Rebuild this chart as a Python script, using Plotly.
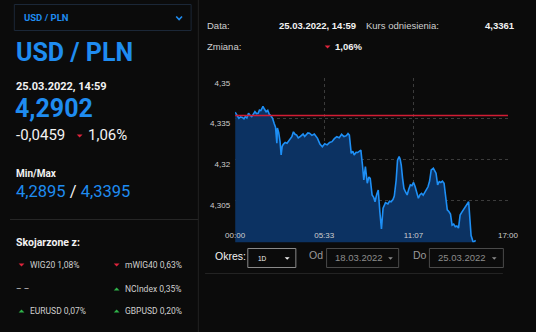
import pandas as pd
import plotly.graph_objects as go

W, H = 536, 332

# Intraday USD/PLN quotes, 25.03.2022
quote_date = "2022-03-25"
times = [
    "00:00", "00:07", "00:14", "00:20", "00:27", "00:33", "00:38", "00:44", "00:50", "00:56",
    "01:02", "01:08", "01:14", "01:20", "01:26", "01:31", "01:36", "01:40", "01:44", "01:50",
    "01:56", "02:02", "02:08", "02:14", "02:20", "02:26", "02:31", "02:36", "02:38", "02:43",
    "02:48", "02:52", "02:56", "03:00", "03:07", "03:14", "03:22", "03:32", "03:38", "03:44",
    "03:50", "03:56", "04:02", "04:08", "04:14", "04:20", "04:26", "04:32", "04:38", "04:47",
    "04:56", "05:02", "05:08", "05:17", "05:26", "05:35", "05:44", "05:53", "06:02", "06:11",
    "06:20", "06:29", "06:38", "06:47", "06:56", "07:02", "07:07", "07:14", "07:20", "07:25",
    "07:32", "07:38", "07:44", "07:50", "07:56", "08:01", "08:04", "08:07", "08:14", "08:20",
    "08:25", "08:32", "08:38", "08:43", "08:49", "08:55", "09:01", "09:07", "09:13", "09:22",
    "09:31", "09:37", "09:43", "09:50", "09:55", "10:02", "10:07", "10:13", "10:17", "10:21",
    "10:26", "10:31", "10:37", "10:43", "10:49", "10:55", "11:01", "11:07", "11:13", "11:19",
    "11:25", "11:31", "11:37", "11:43", "11:49", "11:55", "12:01", "12:07", "12:13", "12:21",
    "12:26", "12:31", "12:37", "12:43", "12:49", "12:55", "13:01", "13:07", "13:13", "13:19",
    "13:25", "13:31", "13:37", "13:43", "13:49", "13:55", "14:01", "14:07", "14:13", "14:19",
    "14:25", "14:33", "14:42", "14:50", "14:59",
]
rates = [
    4.3373, 4.3362, 4.3351, 4.3356, 4.3354, 4.3349, 4.3357, 4.3352, 4.3369, 4.3362,
    4.3357, 4.3366, 4.3375, 4.3368, 4.3369, 4.3381, 4.3379, 4.3386, 4.3395, 4.3384,
    4.3375, 4.3380, 4.3365, 4.3360, 4.3351, 4.3332, 4.3318, 4.3259, 4.3315, 4.3298,
    4.3265, 4.3216, 4.3248, 4.3255, 4.3262, 4.3259, 4.3270, 4.3283, 4.3301, 4.3292,
    4.3289, 4.3279, 4.3283, 4.3290, 4.3293, 4.3284, 4.3289, 4.3297, 4.3296, 4.3288,
    4.3293, 4.3286, 4.3277, 4.3256, 4.3246, 4.3257, 4.3253, 4.3262, 4.3265, 4.3276,
    4.3283, 4.3279, 4.3292, 4.3284, 4.3287, 4.3295, 4.3289, 4.3222, 4.3230, 4.3216,
    4.3226, 4.3225, 4.3231, 4.3234, 4.3179, 4.3124, 4.3150, 4.3173, 4.3112, 4.3135,
    4.3130, 4.3069, 4.3060, 4.3044, 4.3070, 4.3087, 4.3007, 4.2944, 4.3020, 4.3041,
    4.3036, 4.3046, 4.3044, 4.3052, 4.3065, 4.3124, 4.3197, 4.3210, 4.3200, 4.3179,
    4.3130, 4.3093, 4.3080, 4.3069, 4.3090, 4.3106, 4.3103, 4.3115, 4.3099, 4.3080,
    4.3057, 4.3070, 4.3075, 4.3068, 4.3078, 4.3085, 4.3099, 4.3120, 4.3161, 4.3167,
    4.3158, 4.3149, 4.3106, 4.3118, 4.3115, 4.3120, 4.3112, 4.3060, 4.3014, 4.3008,
    4.2999, 4.2958, 4.2962, 4.2952, 4.2955, 4.2947, 4.2995, 4.3005, 4.3014, 4.3020,
    4.3032, 4.3044, 4.2920, 4.2895, 4.2902,
]
ref_rate = 4.3361
y_ticks = [4.305, 4.32, 4.335, 4.35]
x_ticks = ["00:00", "05:33", "11:07", "17:00"]
session = ["00:00", "17:00"]

# Related instruments: (name, change, direction)
related_names = ["WIG20", "mWIG40", "NCIndex", "EURUSD", "GBPUSD"]
related_changes = ["1,08%", "0,63%", "0,35%", "0,07%", "0,20%"]
related_dirs = ["down", "down", "up", "up", "up"]

period_label = "1D"
date_from = "18.03.2022"
date_to = "25.03.2022"

BG = "#0b0b0b"
BLUE = "#1f8cf0"
WHITE = "#f2f2f2"
GREY = "#cfcfcf"
RED = "#e0243c"
GREEN = "#2fb34a"
LEFT_FONT = "Roboto"
RIGHT_FONT = "Liberation Sans"


def fmt(v, d=4):
    return f"{v:.{d}f}".replace(".", ",")


def ts(t):
    return pd.Timestamp(f"{quote_date} {t}")


x = [ts(t) for t in times]
last = rates[-1]
change = last - ref_rate
change_pct = abs(change) / ref_rate * 100
label_time = f"{pd.Timestamp(quote_date):%d.%m.%Y}, {times[-1]}"

fig = go.Figure()
fig.add_trace(go.Scatter(
    x=x, y=rates, mode="lines",
    line=dict(color="#1e8ff5", width=1.6),
    fill="tozeroy", fillcolor="#0c3262",
    hoverinfo="skip", showlegend=False,
))
fig.add_trace(go.Scatter(
    x=[ts(t) for t in session], y=[ref_rate, ref_rate], mode="lines",
    line=dict(color="#d21c34", width=1.4),
    hoverinfo="skip", showlegend=False,
))


def px(v):
    return v / W


def py(v):
    return 1 - v / H


annotations = []
shapes = []


def text(xp, yp, s, size, color=WHITE, bold=False, anchor="left", family=LEFT_FONT):
    if bold:
        s = f"<b>{s}</b>"
    annotations.append(dict(
        x=px(xp), y=py(yp), xref="paper", yref="paper", text=s, showarrow=False,
        xanchor=anchor, yanchor="middle",
        font=dict(size=size, color=color, family=family),
    ))


def line(x0, y0, x1, y1, color, width=1):
    shapes.append(dict(type="line", xref="paper", yref="paper",
                       x0=px(x0), y0=py(y0), x1=px(x1), y1=py(y1),
                       line=dict(color=color, width=width)))


def box(x0, y0, x1, y1, color, width=1):
    shapes.append(dict(type="rect", xref="paper", yref="paper",
                       x0=px(x0), y0=py(y0), x1=px(x1), y1=py(y1),
                       line=dict(color=color, width=width)))


def caret(xc, yc, color, filled=True, w=3.0, h=3.0):
    path = (f"M {px(xc - w)} {py(yc - h / 2)} L {px(xc)} {py(yc + h / 2)} "
            f"L {px(xc + w)} {py(yc - h / 2)}")
    if filled:
        path += " Z"
    shapes.append(dict(type="path", xref="paper", yref="paper", path=path,
                       fillcolor=color if filled else "rgba(0,0,0,0)",
                       line=dict(color=color, width=0 if filled else 1.6)))


def tri(xc, yc, up, color, w=3.0, h=3.0):
    if up:
        path = (f"M {px(xc - w)} {py(yc + h / 2)} L {px(xc)} {py(yc - h / 2)} "
                f"L {px(xc + w)} {py(yc + h / 2)} Z")
    else:
        path = (f"M {px(xc - w)} {py(yc - h / 2)} L {px(xc)} {py(yc + h / 2)} "
                f"L {px(xc + w)} {py(yc - h / 2)} Z")
    shapes.append(dict(type="path", xref="paper", yref="paper", path=path,
                       fillcolor=color, line=dict(color=color, width=0)))


# ---- left panel ----
box(4.5, 4.5, 188.5, 30.5, "#1b2737")
text(12, 17.5, "USD / PLN", 9.5, BLUE, bold=True)
caret(176, 18, BLUE, filled=False, w=3, h=3)
line(196, 0, 196, H, "#222222")
text(4, 53, "USD / PLN", 25, BLUE, bold=True)
text(4, 86, label_time, 11, WHITE, bold=True)
text(3, 108, fmt(last), 25, BLUE, bold=True)
text(4, 135, fmt(change), 15, WHITE)
tri(72.5, 136, change > 0, RED if change < 0 else GREEN, w=3, h=3)
text(79, 135, f"{fmt(change_pct, 2)}%", 15, WHITE)
text(4, 173, "Min/Max", 10, WHITE, bold=True)
text(4, 191,
     f"<span style='color:{BLUE}'>{fmt(min(rates))}</span>"
     f"<span style='color:{WHITE}'> / </span>"
     f"<span style='color:{BLUE}'>{fmt(max(rates))}</span>",
     16.5, BLUE)
line(0, 219.5, 196, 219.5, "#262626")
text(4, 242, "Skojarzone z:", 10.5, WHITE, bold=True)

slots = [(12, 265), (111, 265), (111, 289), (12, 311), (111, 311)]
for (sx, sy), name, chg, d in zip(slots, related_names, related_changes, related_dirs):
    tri(sx, sy, d == "up", GREEN if d == "up" else RED, w=3, h=3)
    text(sx + 7, sy, f"{name} {chg}", 8.5, GREY)
text(4, 289, "– –", 8.5, GREY)

# ---- right panel header ----
text(203, 25, "Data:", 9.5, GREY, family=RIGHT_FONT)
text(362, 25, label_time, 9.5, WHITE, bold=True, anchor="right", family=RIGHT_FONT)
text(368, 25, "Kurs odniesienia:", 9.5, GREY, family=RIGHT_FONT)
text(528, 25, fmt(ref_rate), 9.5, WHITE, bold=True, anchor="right", family=RIGHT_FONT)
text(203, 47, "Zmiana:", 9.5, GREY, family=RIGHT_FONT)
tri(330.5, 47, change > 0, RED if change < 0 else GREEN, w=3, h=3)
text(336, 47, f"{fmt(change_pct, 2)}%", 9.5, WHITE, bold=True, family=RIGHT_FONT)

# ---- period controls ----
text(211, 256, "Okres:", 10.5, WHITE, family=RIGHT_FONT)
box(247.5, 248.5, 297.5, 267.5, "#8a8a8a")
text(256, 258, period_label, 6.5, WHITE, family=RIGHT_FONT)
caret(288.5, 258.5, WHITE, filled=True, w=2.6, h=2.6)
text(309, 255, "Od", 10.5, "#9a9a9a", family=RIGHT_FONT)
box(329.5, 248.5, 404.5, 267.5, "#4a4a4a")
text(336, 257, date_from, 9.5, "#8c8c8c", family=RIGHT_FONT)
caret(396, 258.5, "#8c8c8c", filled=True, w=2.4, h=2.4)
text(417, 255, "Do", 10.5, "#9a9a9a", family=RIGHT_FONT)
box(436.5, 248.5, 513.5, 267.5, "#4a4a4a")
text(443, 257, date_to, 9.5, "#8c8c8c", family=RIGHT_FONT)
caret(504, 258.5, "#8c8c8c", filled=True, w=2.4, h=2.4)
line(203, 273.5, 513, 273.5, "#232323")

fig.update_layout(
    width=W, height=H,
    margin=dict(l=0, r=0, t=0, b=0),
    paper_bgcolor=BG, plot_bgcolor=BG,
    separators=",.",
    showlegend=False,
    annotations=annotations,
    shapes=shapes,
    xaxis=dict(
        domain=[234.3 / W, 518.3 / W],
        type="date",
        range=[ts(session[0]), ts(session[1])],
        tickvals=[ts(t) for t in x_ticks],
        ticktext=x_ticks,
        ticklabelposition="inside",
        ticklabeloverflow="allow",
        tickfont=dict(size=8, color=GREY, family=RIGHT_FONT),
        showgrid=True, gridcolor="#3c3c3c", griddash="dot", gridwidth=1,
        showline=False, zeroline=False, ticks="",
        fixedrange=True,
    ),
    yaxis=dict(
        domain=[1 - 242.3 / H, 1 - 77.7 / H],
        range=[4.2895, 4.35],
        tickvals=y_ticks,
        tickformat=".4~f",
        tickfont=dict(size=8, color=GREY, family=RIGHT_FONT),
        ticklabelstandoff=4,
        ticklabelshift=5,
        showgrid=True, gridcolor="#3c3c3c", griddash="dot", gridwidth=1,
        showline=False, zeroline=False, ticks="",
        fixedrange=True,
    ),
)

fig.write_html("out.html", config={"displayModeBar": False})
